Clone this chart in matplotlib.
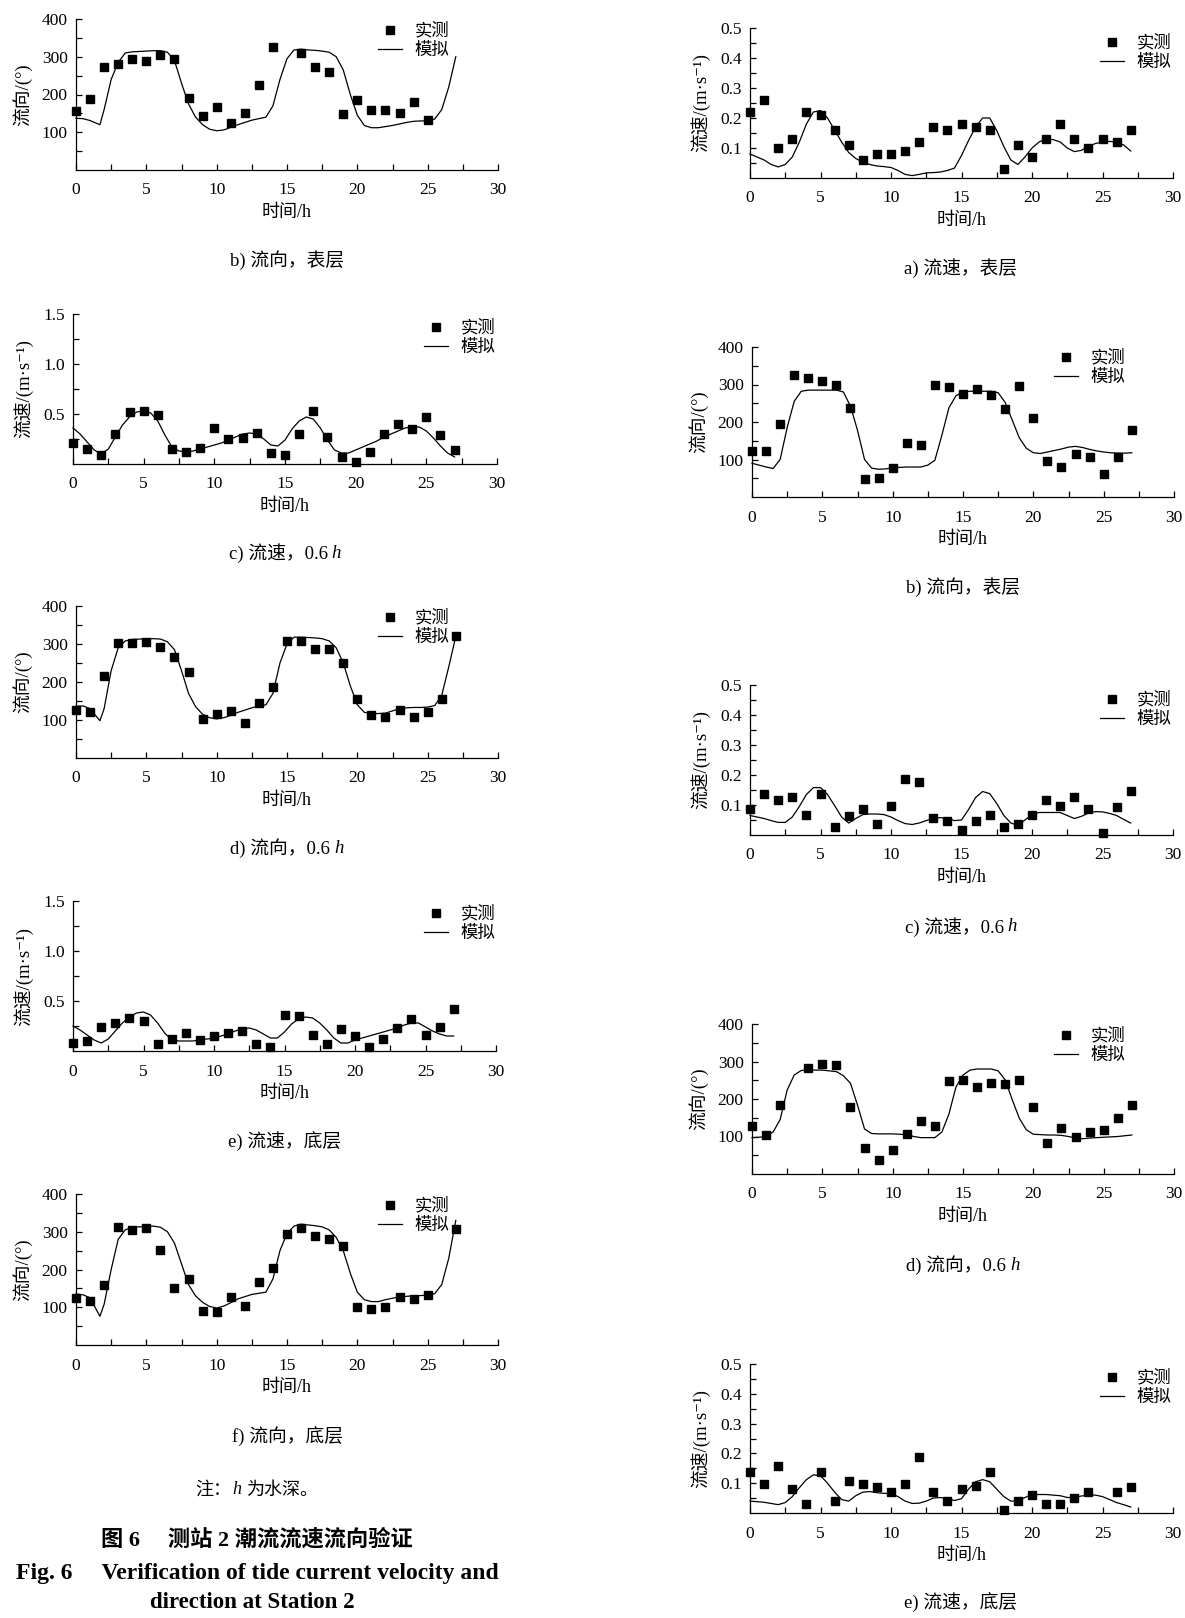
import matplotlib
matplotlib.use("Agg")
import matplotlib.pyplot as plt
from matplotlib.lines import Line2D
from matplotlib.ticker import FixedLocator

plt.rcParams['font.family'] = ['Liberation Serif', 'Noto Sans CJK SC', 'DejaVu Serif']
plt.rcParams['axes.unicode_minus'] = False

# ---------------- data ----------------
hours = [0, 1, 2, 3, 4, 5, 6, 7, 8, 9, 10, 11, 12, 13, 14, 15, 16, 17, 18, 19,
         20, 21, 22, 23, 24, 25, 26, 27]
sim_hours = [0, 0.5, 1, 1.5, 2, 2.5, 3, 3.5, 4, 4.5, 5, 5.5, 6, 6.5, 7, 7.5,
             8, 8.5, 9, 9.5, 10, 10.5, 11, 11.5, 12, 12.5, 13, 13.5, 14, 14.5,
             15, 15.5, 16, 16.5, 17, 17.5, 18, 18.5, 19, 19.5, 20, 20.5, 21,
             21.5, 22, 22.5, 23, 23.5, 24, 24.5, 25, 25.5, 26, 26.5, 27]
# same grid, but with the sharp dip near 1.7 h
dip_hours = [0, 0.5, 1, 1.7, 2, 2.5, 3, 3.5, 4, 4.5, 5, 5.5, 6, 6.5, 7, 7.5,
             8, 8.5, 9, 9.5, 10, 10.5, 11, 11.5, 12, 12.5, 13, 13.5, 14, 14.5,
             15, 15.5, 16, 16.5, 17, 17.5, 18, 18.5, 19, 19.5, 20, 20.5, 21,
             21.5, 22, 22.5, 23, 23.5, 24, 24.5, 25, 25.5, 26, 26.5, 27]

# left column
l_dir_surf_t = [0, 1, 2, 3, 4, 5, 6, 7, 8, 9, 10, 11, 12, 13, 14,
                16, 17, 18, 19, 20, 21, 22, 23, 24, 25]
l_dir_surf_obs = [155, 188, 274, 280, 295, 290, 305, 295, 191, 144, 166, 124, 152, 226, 325,
                  309, 274, 260, 148, 185, 160, 159, 152, 181, 132]
l_dir_surf_sim = [137, 136, 131, 120, 160, 240, 285, 310, 313, 314, 315, 316, 316, 312, 290,
                  230, 175, 140, 120, 108, 104, 106, 113, 120, 126, 132, 136, 140, 170, 240,
                  295, 318, 320, 318, 317, 315, 312, 300, 265, 200, 145, 118, 112, 112, 115,
                  118, 122, 126, 129, 130, 130, 135, 160, 220, 300]

l_vel_06_obs = [0.21, 0.15, 0.09, 0.30, 0.52, 0.53, 0.49, 0.15, 0.12, 0.16, 0.36, 0.25, 0.26, 0.31,
                0.11, 0.09, 0.30, 0.53, 0.27, 0.07, 0.02, 0.12, 0.30, 0.40, 0.35, 0.47, 0.29, 0.14]
l_vel_06_sim = [0.36, 0.30, 0.22, 0.14, 0.10, 0.15, 0.27, 0.39, 0.47, 0.52, 0.53, 0.51, 0.43, 0.29,
                0.17, 0.13, 0.12, 0.13, 0.15, 0.17, 0.19, 0.21, 0.24, 0.27, 0.30, 0.31, 0.30, 0.25,
                0.19, 0.18, 0.24, 0.35, 0.43, 0.47, 0.45, 0.36, 0.24, 0.14, 0.11, 0.11, 0.14, 0.17,
                0.20, 0.23, 0.27, 0.30, 0.33, 0.36, 0.37, 0.37, 0.33, 0.26, 0.18, 0.11, 0.07]

l_dir_06_obs = [127, 120, 216, 303, 303, 306, 292, 265, 227, 103, 115, 123, 91, 145,
                188, 309, 308, 286, 287, 249, 155, 113, 107, 127, 108, 120, 155, 322]
l_dir_06_sim = [136, 137, 130, 98, 130, 230, 290, 308, 312, 313, 314, 314, 313, 306, 285,
                230, 170, 135, 115, 106, 103, 106, 112, 120, 126, 132, 137, 140, 170, 250,
                300, 318, 318, 317, 316, 314, 308, 290, 250, 190, 140, 120, 117, 117, 118,
                124, 130, 132, 133, 133, 134, 138, 165, 240, 320]

l_vel_bot_obs = [0.08, 0.10, 0.24, 0.28, 0.33, 0.30, 0.07, 0.12, 0.18, 0.11, 0.15, 0.18, 0.20, 0.07,
                 0.04, 0.36, 0.35, 0.16, 0.07, 0.22, 0.15, 0.04, 0.12, 0.23, 0.32, 0.16, 0.24, 0.42]
l_vel_bot_sim = [0.25, 0.21, 0.16, 0.11, 0.08, 0.12, 0.20, 0.28, 0.34, 0.38, 0.39, 0.36, 0.28, 0.18,
                 0.11, 0.10, 0.10, 0.10, 0.11, 0.12, 0.13, 0.15, 0.17, 0.20, 0.22, 0.23, 0.21, 0.17,
                 0.13, 0.13, 0.19, 0.27, 0.32, 0.34, 0.33, 0.28, 0.21, 0.13, 0.08, 0.08, 0.11, 0.13,
                 0.15, 0.17, 0.19, 0.21, 0.23, 0.26, 0.28, 0.28, 0.24, 0.20, 0.17, 0.15, 0.15]

l_dir_bot_t = [0, 1, 2, 3, 4, 5, 6, 7, 8, 9, 10, 11, 12, 13, 14, 15, 16, 17, 18, 19,
               20, 21, 22, 23, 24, 25, 27]
l_dir_bot_obs = [125, 116, 158, 313, 304, 309, 251, 150, 174, 89, 88, 127, 103, 167, 203,
                 293, 311, 288, 282, 263, 101, 96, 101, 126, 123, 133, 306]
l_dir_bot_sim = [135, 133, 125, 76, 108, 200, 280, 305, 312, 313, 314, 315, 312, 300, 270,
                 215, 160, 130, 113, 102, 98, 103, 112, 122, 128, 134, 137, 140, 175, 250,
                 295, 315, 320, 318, 316, 313, 305, 285, 250, 190, 140, 120, 115, 115, 120,
                 124, 127, 129, 130, 131, 132, 136, 160, 230, 330]

# right column
r_vel_surf_obs = [0.22, 0.26, 0.10, 0.13, 0.22, 0.21, 0.16, 0.11, 0.06, 0.08, 0.08, 0.09, 0.12, 0.17,
                  0.16, 0.18, 0.17, 0.16, 0.03, 0.11, 0.07, 0.13, 0.18, 0.13, 0.10, 0.13, 0.12, 0.16]
r_vel_surf_sim = [0.080, 0.070, 0.060, 0.045, 0.037, 0.045, 0.070, 0.120, 0.180, 0.220,
                  0.225, 0.200, 0.160, 0.120, 0.085, 0.065, 0.053, 0.045, 0.040, 0.038,
                  0.035, 0.025, 0.012, 0.008, 0.012, 0.017, 0.018, 0.020, 0.025, 0.033,
                  0.075, 0.125, 0.170, 0.200, 0.200, 0.158, 0.105, 0.060, 0.045, 0.070,
                  0.100, 0.120, 0.130, 0.128, 0.120, 0.100, 0.088, 0.092, 0.105, 0.115,
                  0.120, 0.122, 0.120, 0.110, 0.090]

r_dir_surf_obs = [124, 124, 194, 326, 318, 310, 298, 237, 47, 50, 77, 145, 140, 300,
                  293, 276, 288, 273, 234, 297, 212, 96, 80, 115, 108, 61, 106, 178]
r_dir_surf_sim = [90, 85, 80, 76, 100, 185, 255, 282, 285, 285, 285, 285, 285, 280, 242,
                  178, 100, 77, 74, 75, 78, 79, 80, 80, 80, 85, 98, 165, 238, 270,
                  280, 282, 282, 282, 282, 278, 252, 205, 158, 130, 118, 116, 120, 124, 128,
                  133, 135, 132, 127, 123, 120, 118, 117, 117, 118]

r_vel_06_obs = [0.085, 0.135, 0.115, 0.125, 0.065, 0.135, 0.025, 0.062, 0.085, 0.035,
                0.095, 0.187, 0.175, 0.056, 0.045, 0.015, 0.045, 0.065, 0.025, 0.037,
                0.065, 0.115, 0.095, 0.125, 0.085, 0.005, 0.092, 0.145]
r_vel_06_sim = [0.065, 0.060, 0.055, 0.048, 0.042, 0.042, 0.060, 0.095, 0.135, 0.158,
                0.158, 0.135, 0.098, 0.060, 0.040, 0.055, 0.068, 0.070, 0.070, 0.068,
                0.060, 0.048, 0.038, 0.035, 0.040, 0.048, 0.055, 0.058, 0.055, 0.048,
                0.050, 0.085, 0.125, 0.145, 0.138, 0.105, 0.065, 0.040, 0.032, 0.050,
                0.068, 0.075, 0.075, 0.075, 0.075, 0.065, 0.055, 0.062, 0.073, 0.078,
                0.077, 0.072, 0.065, 0.052, 0.040]

r_dir_06_t = [0, 1, 2, 4, 5, 6, 7, 8, 9, 10, 11, 12, 13, 14, 15, 16, 17, 18, 19,
              20, 21, 22, 23, 24, 25, 26, 27]
r_dir_06_obs = [127, 103, 185, 284, 294, 290, 178, 69, 38, 64, 106, 141, 129, 247, 251,
                233, 242, 239, 252, 178, 82, 123, 99, 111, 117, 149, 183]
r_dir_06_sim = [97, 98, 100, 112, 145, 224, 264, 276, 278, 277, 277, 275, 273, 262, 242,
                184, 120, 108, 107, 107, 107, 106, 105, 100, 97, 97, 97, 112, 160, 232,
                264, 277, 280, 280, 280, 275, 251, 198, 149, 118, 106, 105, 104, 104, 103,
                100, 96, 94, 96, 97, 98, 99, 100, 102, 104]

r_vel_bot_t = [0, 1, 2, 3, 4, 5, 6, 7, 8, 9, 10, 11, 12, 13, 14, 15, 16, 17, 18, 19,
               20, 21, 22, 23, 24, 26, 27]
r_vel_bot_obs = [0.138, 0.098, 0.158, 0.079, 0.029, 0.138, 0.039, 0.108, 0.098, 0.088,
                 0.069, 0.098, 0.189, 0.069, 0.039, 0.079, 0.089, 0.138, 0.009, 0.039,
                 0.059, 0.029, 0.029, 0.049, 0.069, 0.069, 0.088]
r_vel_bot_sim = [0.040, 0.038, 0.036, 0.032, 0.028, 0.035, 0.055, 0.085, 0.112, 0.128,
                 0.125, 0.100, 0.070, 0.045, 0.040, 0.058, 0.070, 0.072, 0.068, 0.066,
                 0.065, 0.055, 0.040, 0.032, 0.033, 0.040, 0.050, 0.052, 0.048, 0.042,
                 0.048, 0.080, 0.105, 0.112, 0.105, 0.080, 0.055, 0.040, 0.040, 0.052,
                 0.062, 0.062, 0.062, 0.060, 0.058, 0.052, 0.052, 0.057, 0.060, 0.060,
                 0.055, 0.045, 0.035, 0.028, 0.020]

W, H = 1185, 1618
fig = plt.figure(figsize=(W / 100, H / 100), dpi=100)
renderer = fig.canvas.get_renderer()

FS = 12.5
CAP_FS = 13.5


def fx(x):
    return x / W


def fy(y):
    return 1 - y / H


def mixed_text(cx, cy, parts, fontsize, **kw):
    # parts: (string, style, gap in px before it); centred as one line
    texts, widths = [], []
    for s, style, gap in parts:
        t = fig.text(0, fy(cy), s, fontsize=fontsize, style=style,
                     ha='left', va='center', **kw)
        texts.append(t)
        widths.append(gap + t.get_window_extent(renderer).width)
    x = cx - sum(widths) / 2
    for t, w, p in zip(texts, widths, parts):
        x += p[2]
        t.set_x(fx(x))
        x += w - p[2]


def caption(cx, cy, head, italic_h=False):
    if italic_h:
        mixed_text(cx, cy, [(head, 'normal', 0), ('h', 'italic', 4)], CAP_FS)
    else:
        fig.text(fx(cx), fy(cy), head, ha='center', va='center', fontsize=CAP_FS)


def draw_panel(box, obs_t, obs_v, sim_t, sim_v, kind, leg):
    x0, x1, y0, y1 = box
    ax = fig.add_axes([fx(x0), fy(y1), (x1 - x0) / W, (y1 - y0) / H])
    ax.plot(sim_t, sim_v, color='black', lw=0.9, clip_on=False)
    ax.plot(obs_t, obs_v, 's', color='black', ms=5.5, clip_on=False)

    ax.set_xlim(0, 30)
    ax.xaxis.set_major_locator(FixedLocator([0, 5, 10, 15, 20, 25, 30]))
    ax.xaxis.set_minor_locator(FixedLocator([2.5, 7.5, 12.5, 17.5, 22.5, 27.5]))
    if kind == 'dir':
        ax.set_ylim(0, 400)
        ax.set_yticks([100, 200, 300, 400])
        ax.yaxis.set_minor_locator(FixedLocator([50, 150, 250, 350]))
        ax.set_ylabel('流向/(°)', fontsize=13.5, labelpad=7)
    elif kind == 'vel_big':
        ax.set_ylim(0, 1.5)
        ax.set_yticks([0.5, 1.0, 1.5])
        ax.set_yticklabels(['0.5', '1.0', '1.5'])
        ax.yaxis.set_minor_locator(FixedLocator([0.25, 0.75, 1.25]))
        ax.set_ylabel('流速/(m·s⁻¹)', fontsize=13.5, labelpad=7)
    else:
        ax.set_ylim(0, 0.5)
        ax.set_yticks([0.1, 0.2, 0.3, 0.4, 0.5])
        ax.yaxis.set_minor_locator(FixedLocator([0.05, 0.15, 0.25, 0.35, 0.45]))
        ax.set_ylabel('流速/(m·s⁻¹)', fontsize=13.5, labelpad=7)

    ax.set_xlabel('时间/h', fontsize=13, labelpad=4)
    ax.spines['top'].set_visible(False)
    ax.spines['right'].set_visible(False)
    for s in ('left', 'bottom'):
        ax.spines[s].set_linewidth(0.9)
    ax.tick_params(which='both', direction='in', length=4, width=0.9, labelsize=FS)
    ax.tick_params(axis='x', which='both', pad=9)
    ax.tick_params(axis='y', which='both', pad=6)

    handles = [Line2D([], [], ls='none', marker='s', ms=5.5, color='black'),
               Line2D([], [], color='black', lw=0.9)]
    ax.legend(handles, ['实测', '模拟'], loc='upper left',
              bbox_to_anchor=(fx(leg[0]), fy(leg[1] - 7)), bbox_transform=fig.transFigure,
              frameon=False, borderpad=0, borderaxespad=0, handlelength=1.4,
              handletextpad=0.7, labelspacing=0.2, fontsize=FS)
    return ax


# left column
draw_panel((76, 498, 19, 170), l_dir_surf_t, l_dir_surf_obs, dip_hours, l_dir_surf_sim,
           'dir', (378, 30))
caption(287, 260, 'b) 流向，表层')
draw_panel((73, 497, 314, 464), hours, l_vel_06_obs, sim_hours, l_vel_06_sim,
           'vel_big', (424, 327))
caption(285, 553, 'c) 流速，0.6', italic_h=True)
draw_panel((76, 498, 606, 758), hours, l_dir_06_obs, dip_hours, l_dir_06_sim,
           'dir', (378, 617))
caption(287, 848, 'd) 流向，0.6', italic_h=True)
draw_panel((73, 496, 901, 1051), hours, l_vel_bot_obs, sim_hours, l_vel_bot_sim,
           'vel_big', (424, 913))
caption(285, 1142, 'e) 流速，底层')
draw_panel((76, 498, 1194, 1345), l_dir_bot_t, l_dir_bot_obs, dip_hours, l_dir_bot_sim,
           'dir', (378, 1205))
caption(287, 1437, 'f) 流向，底层')

# right column
draw_panel((750, 1173, 28, 178), hours, r_vel_surf_obs, sim_hours, r_vel_surf_sim,
           'vel', (1100, 42))
caption(961, 268, 'a) 流速，表层')
draw_panel((752, 1174, 347, 497), hours, r_dir_surf_obs, sim_hours, r_dir_surf_sim,
           'dir', (1054, 357))
caption(963, 587, 'b) 流向，表层')
draw_panel((750, 1173, 685, 835), hours, r_vel_06_obs, sim_hours, r_vel_06_sim,
           'vel', (1100, 699))
caption(961, 927, 'c) 流速，0.6', italic_h=True)
draw_panel((752, 1174, 1024, 1174), r_dir_06_t, r_dir_06_obs, sim_hours, r_dir_06_sim,
           'dir', (1054, 1035))
caption(963, 1265, 'd) 流向，0.6', italic_h=True)
draw_panel((750, 1173, 1364, 1513), r_vel_bot_t, r_vel_bot_obs, sim_hours, r_vel_bot_sim,
           'vel', (1100, 1377))
caption(961, 1603, 'e) 流速，底层')

# note and figure caption
mixed_text(257, 1490, [('注：', 'normal', 0), ('h', 'italic', 1), ('为水深。', 'normal', 5)], 13)
fig.text(fx(257), fy(1540), '图 6　 测站 2 潮流流速流向验证', ha='center', va='center',
         fontsize=16, fontweight='bold')
fig.text(fx(257), fy(1573), 'Fig. 6     Verification of tide current velocity and',
         ha='center', va='center', fontsize=17, fontweight='bold')
fig.text(fx(252), fy(1603), 'direction at Station 2', ha='center', va='center',
         fontsize=16.5, fontweight='bold')

fig.savefig('out.png', dpi=100)
